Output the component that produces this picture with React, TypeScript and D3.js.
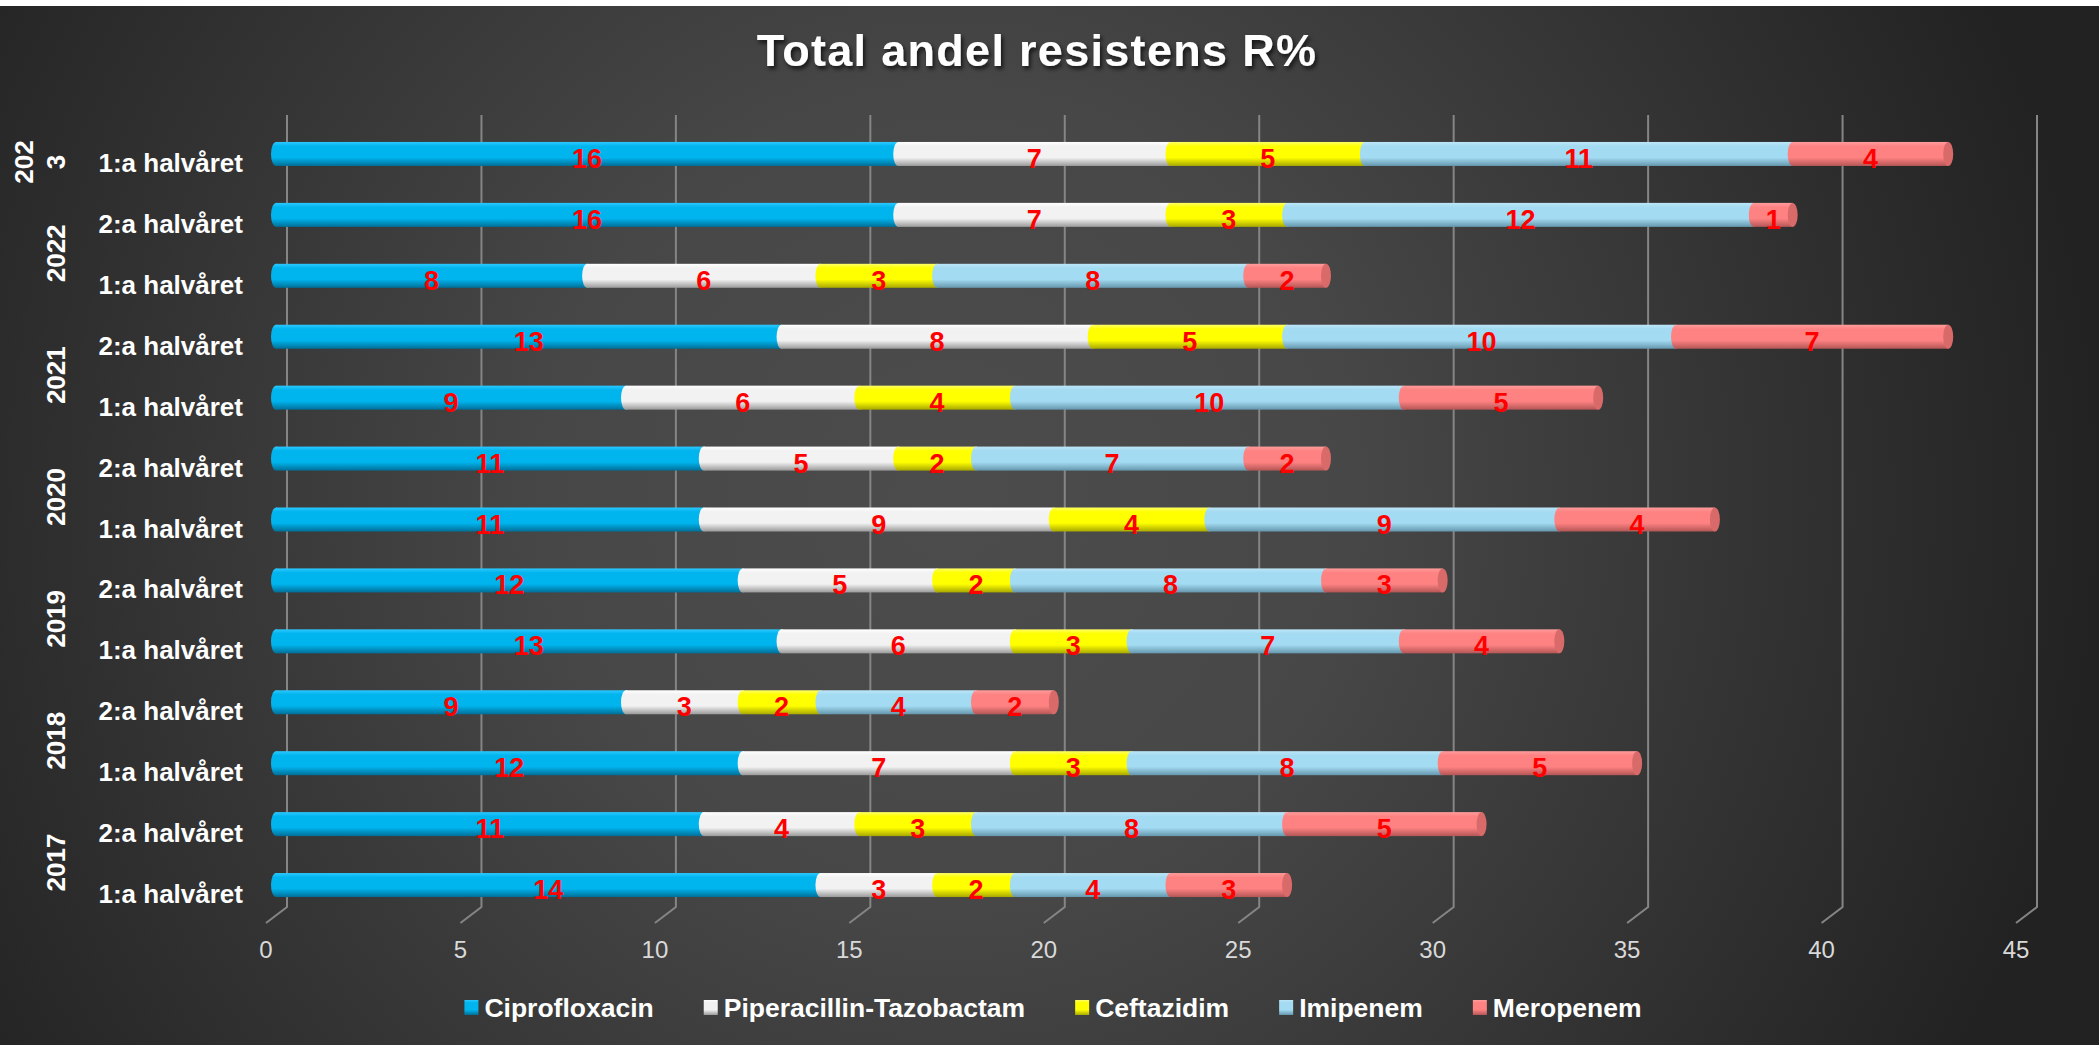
import React, { useEffect, useRef } from 'react';
import * as d3 from 'd3';

// rows from top to bottom
const rowYears = ['2023', '2022', '2022', '2021', '2021', '2020', '2020', '2019', '2019', '2018', '2018', '2017', '2017'];
const rowHalves = ['1:a halvåret', '2:a halvåret', '1:a halvåret', '2:a halvåret', '1:a halvåret', '2:a halvåret', '1:a halvåret', '2:a halvåret', '1:a halvåret', '2:a halvåret', '1:a halvåret', '2:a halvåret', '1:a halvåret'];

const seriesNames = ['Ciprofloxacin', 'Piperacillin-Tazobactam', 'Ceftazidim', 'Imipenem', 'Meropenem'];
const ciprofloxacin = [16, 16, 8, 13, 9, 11, 11, 12, 13, 9, 12, 11, 14];
const piperacillin = [7, 7, 6, 8, 6, 5, 9, 5, 6, 3, 7, 4, 3];
const ceftazidim = [5, 3, 3, 5, 4, 2, 4, 2, 3, 2, 3, 3, 2];
const imipenem = [11, 12, 8, 10, 10, 7, 9, 8, 7, 4, 8, 8, 4];
const meropenem = [4, 1, 2, 7, 5, 2, 4, 3, 4, 2, 5, 5, 3];

const xTicks = [0, 5, 10, 15, 20, 25, 30, 35, 40, 45];

// base, top highlight, bottom shade, end cap
const colors = [
  ['#00b4ee', '#2cc9ff', '#006f98', '#0090c0'],
  ['#f2f2f2', '#ffffff', '#9a9a9a', '#cfcfcf'],
  ['#ffff00', '#ffff66', '#a8a800', '#d8d800'],
  ['#a3dbf2', '#bde6f8', '#6597ad', '#86bcd4'],
  ['#ff8282', '#ff9c9c', '#b45656', '#d96a6a'],
];

const W = 2099;
const H = 1045;

const App = () => {
  const ref = useRef(null);

  useEffect(() => {
    const svg = d3.select(ref.current);
    svg.selectAll('*').remove();

    const allSeries = [ciprofloxacin, piperacillin, ceftazidim, imipenem, meropenem];
    const rows = rowHalves.map((h, i) => {
      const o = { key: String(i) };
      seriesNames.forEach((s, j) => { o[s] = allSeries[j][i]; });
      return o;
    });
    const stacked = d3.stack().keys(seriesNames)(rows);

    const x = d3.scaleLinear().domain([0, 45]).range([287, 2037]);
    const y = d3.scaleBand().domain(rows.map(r => r.key)).range([123.5, 915.5]);
    const barH = 24;
    const barDx = -11;
    const capR = 5;
    const frontDx = -21;
    const frontDy = 16;

    const defs = svg.append('defs');
    const bg = defs.append('radialGradient').attr('id', 'bg')
      .attr('gradientUnits', 'userSpaceOnUse')
      .attr('cx', 950).attr('cy', 500).attr('r', 1150);
    bg.append('stop').attr('offset', 0).attr('stop-color', '#4c4c4c');
    bg.append('stop').attr('offset', 0.35).attr('stop-color', '#474747');
    bg.append('stop').attr('offset', 1).attr('stop-color', '#222222');

    colors.forEach((c, i) => {
      const g = defs.append('linearGradient').attr('id', 'g' + i)
        .attr('x1', 0).attr('y1', 0).attr('x2', 0).attr('y2', 1);
      g.append('stop').attr('offset', 0).attr('stop-color', c[1]);
      g.append('stop').attr('offset', 0.18).attr('stop-color', c[0]);
      g.append('stop').attr('offset', 0.65).attr('stop-color', c[0]);
      g.append('stop').attr('offset', 1).attr('stop-color', c[2]);
    });

    const sh = defs.append('filter').attr('id', 'shadow')
      .attr('x', '-10%').attr('y', '-30%').attr('width', '120%').attr('height', '160%');
    sh.append('feDropShadow').attr('dx', 2).attr('dy', 3).attr('stdDeviation', 2)
      .attr('flood-color', '#000').attr('flood-opacity', 0.7);

    // background
    svg.append('rect').attr('width', W).attr('height', H).attr('fill', '#ffffff');
    svg.append('rect').attr('y', 6).attr('width', W).attr('height', H - 6).attr('fill', 'url(#bg)');

    // title
    svg.append('text')
      .attr('x', 1037).attr('y', 66)
      .attr('text-anchor', 'middle')
      .attr('font-family', 'Liberation Sans, Arial, sans-serif')
      .attr('font-weight', 'bold')
      .attr('font-size', 45)
      .attr('letter-spacing', 1.3)
      .attr('fill', '#ffffff')
      .attr('filter', 'url(#shadow)')
      .text('Total andel resistens R%');

    // grid walls
    const grid = svg.append('g');
    grid.selectAll('path')
      .data(xTicks)
      .enter().append('path')
      .attr('d', d => `M${x(d)},115 V907 l${frontDx},${frontDy}`)
      .attr('fill', 'none')
      .attr('stroke', '#858585')
      .attr('stroke-width', 2);

    grid.selectAll('text')
      .data(xTicks)
      .enter().append('text')
      .attr('x', d => x(d) + frontDx)
      .attr('y', 958)
      .attr('text-anchor', 'middle')
      .attr('font-family', 'Liberation Sans, Arial, sans-serif')
      .attr('font-size', 24)
      .attr('fill', '#d9d9d9')
      .text(d => d);

    // bars
    const bars = svg.append('g');
    stacked.forEach((layer, si) => {
      const g = bars.append('g');
      g.selectAll('rect')
        .data(layer)
        .enter().append('rect')
        .attr('x', d => x(d[0]) + barDx)
        .attr('y', (d, i) => y(String(i)) + y.bandwidth() / 2 - barH / 2)
        .attr('width', d => x(d[1]) - x(d[0]))
        .attr('height', barH)
        .attr('fill', `url(#g${si})`);
      g.selectAll('ellipse')
        .data(layer)
        .enter().append('ellipse')
        .attr('cx', d => x(d[0]) + barDx)
        .attr('cy', (d, i) => y(String(i)) + y.bandwidth() / 2)
        .attr('rx', capR)
        .attr('ry', barH / 2)
        .attr('fill', `url(#g${si})`);
    });

    // end caps on last segment
    const last = stacked[stacked.length - 1];
    bars.append('g').selectAll('ellipse')
      .data(last)
      .enter().append('ellipse')
      .attr('cx', d => x(d[1]) + barDx)
      .attr('cy', (d, i) => y(String(i)) + y.bandwidth() / 2)
      .attr('rx', capR)
      .attr('ry', barH / 2)
      .attr('fill', colors[4][3]);

    // value labels
    const labels = svg.append('g')
      .attr('font-family', 'Liberation Sans, Arial, sans-serif')
      .attr('font-weight', 'bold')
      .attr('font-size', 27)
      .attr('fill', '#ff0000')
      .attr('text-anchor', 'middle');
    stacked.forEach(layer => {
      labels.append('g').selectAll('text')
        .data(layer)
        .enter().append('text')
        .attr('x', d => x((d[0] + d[1]) / 2) + barDx)
        .attr('y', (d, i) => y(String(i)) + y.bandwidth() / 2 + 14)
        .text(d => d[1] - d[0]);
    });

    // category labels
    const cat = svg.append('g')
      .attr('font-family', 'Liberation Sans, Arial, sans-serif')
      .attr('font-weight', 'bold')
      .attr('font-size', 26)
      .attr('fill', '#ffffff');
    cat.selectAll('text')
      .data(rowHalves)
      .enter().append('text')
      .attr('x', 243)
      .attr('y', (d, i) => y(String(i)) + y.bandwidth() / 2 + 18)
      .attr('text-anchor', 'end')
      .text(d => d);

    // year labels (rotated)
    const years = Array.from(new Set(rowYears));
    years.forEach(yr => {
      const idx = rowYears.map((r, i) => (r === yr ? i : -1)).filter(i => i >= 0);
      const cy = d3.mean(idx, i => y(String(i)) + y.bandwidth() / 2) + 8;
      const lines = idx.length === 1 ? [yr.slice(0, 3), yr.slice(3)] : [yr];
      const t = cat.append('text')
        .attr('transform', `translate(56,${cy}) rotate(-90)`)
        .attr('text-anchor', 'middle');
      lines.forEach((ln, k) => {
        t.append('tspan')
          .attr('x', 0)
          .attr('y', 9 - (lines.length - 1 - k) * 32)
          .text(ln);
      });
    });

    // legend
    const legend = svg.append('g')
      .attr('font-family', 'Liberation Sans, Arial, sans-serif')
      .attr('font-weight', 'bold')
      .attr('font-size', 26.5)
      .attr('fill', '#ffffff');
    const gap = 50;
    let lx = 0;
    seriesNames.forEach((name, i) => {
      const it = legend.append('g');
      it.append('rect').attr('x', 0).attr('y', -7).attr('width', 14).attr('height', 15)
        .attr('fill', `url(#g${i})`);
      const tx = it.append('text').attr('x', 20).attr('y', 9.5).text(name);
      const w = 20 + tx.node().getComputedTextLength();
      it.attr('transform', `translate(${lx},1007)`);
      lx += w + gap;
    });
    const total = lx - gap;
    legend.attr('transform', `translate(${1053 - total / 2},0)`);
  }, []);

  return (
    <svg ref={ref} width={W} height={H} style={{ position: 'absolute', left: 0, top: 0, display: 'block' }}></svg>
  );
};

export default App;
